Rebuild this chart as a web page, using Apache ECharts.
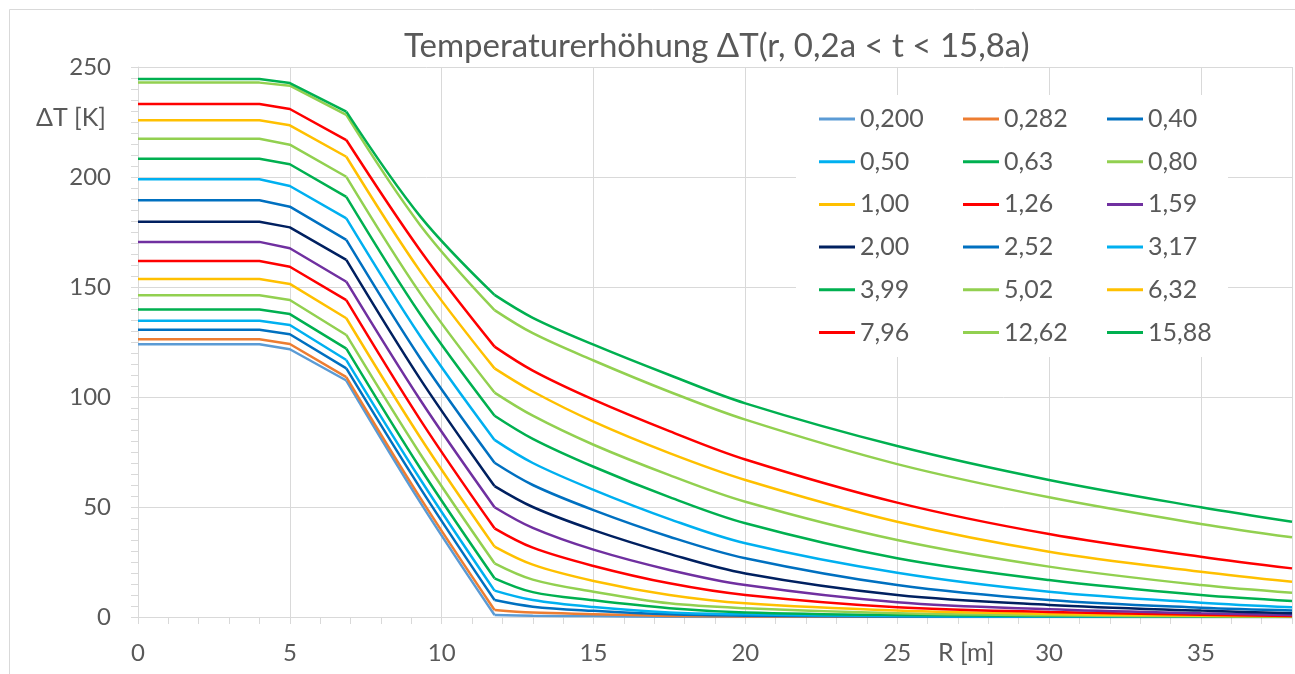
<!DOCTYPE html>
<html>
<head>
<meta charset="utf-8">
<script src="https://cdn.jsdelivr.net/npm/echarts@6/dist/echarts.min.js"></script>
<style>
html,body{margin:0;padding:0;background:#fff;}
#chart{width:1295px;height:674px;}
</style>
</head>
<body>
<div id="chart"></div>
<script>
// Radius positions (m)
var radius = [0, 4, 5, 6.86, 9.3, 11.74, 13, 15, 17.5, 20, 25, 30, 35, 38];

// Temperature rise ΔT (K) per time t (a)
var s0200 = [124, 124, 121.7, 107.5, 52, 0.9, 0.6, 0.4, 0.1, 0, 0, 0, 0, 0];
var s0282 = [126.2, 126.2, 124.1, 109, 54, 3.2, 2, 1.3, 0.5, 0.2, 0.1, 0, 0, 0];
var s040  = [130.6, 130.6, 128.5, 113, 58.5, 7.7, 4.7, 2.8, 1.2, 0.6, 0.2, 0.1, 0, 0];
var s050  = [134.7, 134.7, 132.7, 116.8, 62.5, 12, 7.7, 4.5, 2, 1.2, 0.4, 0.2, 0.1, 0];
var s063  = [139.8, 139.8, 137.7, 122, 67.5, 17.6, 11.3, 7.6, 4, 2.1, 0.9, 0.5, 0.2, 0.1];
var s080  = [146.2, 146.2, 144.1, 128.2, 74, 24.4, 17, 11.5, 6.2, 4, 1.7, 0.8, 0.3, 0.2];
var s100  = [153.6, 153.6, 151.4, 135.8, 81.5, 32, 23.8, 16.4, 10, 6.2, 2.9, 1.4, 0.6, 0.3];
var s126  = [161.8, 161.8, 159.2, 144, 89.5, 40.3, 31.5, 23.2, 15.3, 10, 4.4, 2.3, 1, 0.5];
var s159  = [170.5, 170.5, 167.6, 152.4, 98.5, 49.9, 40.5, 30.6, 21.4, 14.5, 6.7, 3.5, 1.7, 0.9];
var s200  = [179.7, 179.7, 177.1, 162.3, 108, 59.5, 50, 39.5, 28.7, 19.8, 10, 5.5, 2.9, 1.7];
var s252  = [189.4, 189.4, 186.5, 171.4, 117.5, 70.1, 60, 48.6, 36.5, 26.7, 14.5, 7.7, 4.2, 3];
var s317  = [199, 199, 195.9, 181.2, 127.5, 80.5, 70, 57.8, 44.5, 33.5, 20.1, 11.5, 6.5, 4.4];
var s399  = [208.3, 208.3, 205.8, 191, 137.5, 91.5, 81, 68.3, 54.5, 42.6, 26.7, 16.8, 10, 7.3];
var s502  = [217.4, 217.4, 214.7, 200.1, 147, 102, 91.5, 78.3, 64.5, 52.4, 35, 22.9, 14.5, 11];
var s632  = [225.8, 225.8, 223.5, 209.2, 157, 113, 102.5, 88.8, 74.5, 62.3, 43.3, 29.7, 20.6, 16];
var s796  = [233.2, 233.2, 230.9, 216.8, 166.5, 122.9, 112, 98.8, 84.5, 71.6, 52, 37.7, 27.4, 22.1];
var s1262 = [242.9, 242.9, 241.5, 228.2, 178, 139.5, 129, 116.6, 102.4, 89.7, 69.5, 54.4, 42.3, 36.2];
var s1588 = [244.5, 244.5, 242.7, 229.7, 182, 146.4, 136, 123.8, 110, 97.1, 77.7, 62.3, 49.9, 43.3];

var seriesNames = ['0,200','0,282','0,40','0,50','0,63','0,80','1,00','1,26','1,59','2,00','2,52','3,17','3,99','5,02','6,32','7,96','12,62','15,88'];
var seriesValues = [s0200, s0282, s040, s050, s063, s080, s100, s126, s159, s200, s252, s317, s399, s502, s632, s796, s1262, s1588];
var seriesColors = ['#5B9BD5','#ED7D31','#0070C0','#00B0F0','#00B050','#92D050','#FFC000','#FF0000','#7030A0','#002060','#0070C0','#00B0F0','#00B050','#92D050','#FFC000','#FF0000','#92D050','#00B050'];

var xTicks = [0, 5, 10, 15, 20, 25, 30, 35];
var yTicks = [0, 50, 100, 150, 200, 250];

// curve pieces: [first index, last index, smooth]
var pieces = [[0, 3, false], [3, 5, 0.35], [5, 13, 0.35]];

var FONT = 'Lato';
var TXT = '#595959';
var GRID = '#d9d9d9';

var chart = echarts.init(document.getElementById('chart'), null, {renderer: 'canvas'});

var series = [];
seriesNames.forEach(function (n, i) {
  pieces.forEach(function (p) {
    var pts = [];
    for (var k = p[0]; k <= p[1]; k++) pts.push([radius[k], seriesValues[i][k]]);
    series.push({
      name: n,
      type: 'line',
      xAxisIndex: 0,
      symbol: 'none',
      smooth: p[2],
      lineStyle: {width: 2.5, color: seriesColors[i]},
      itemStyle: {color: seriesColors[i]},
      data: pts,
      z: 3
    });
  });
});

function legendCol(c) {
  var names = [];
  for (var i = c; i < seriesNames.length; i += 3) names.push(seriesNames[i]);
  return {
    orient: 'vertical',
    left: 814 + c * 144,
    top: 100,
    data: names,
    icon: 'rect',
    itemWidth: 36,
    itemHeight: 3,
    itemGap: 14.7,
    textStyle: {fontFamily: FONT, fontSize: 25, color: TXT, lineHeight: 28}
  };
}

var option = {
  animation: false,
  backgroundColor: '#fff',
  title: {
    text: 'Temperaturerhöhung ΔT(r, 0,2a < t < 15,8a)',
    left: 399,
    top: 25,
    textStyle: {fontFamily: FONT, fontSize: 33, fontWeight: 'normal', color: TXT}
  },
  legend: [legendCol(0), legendCol(1), legendCol(2)],
  grid: {left: 138, right: 2, top: 67, bottom: 57, containLabel: false},
  xAxis: [{
    type: 'value',
    min: 0, max: 38, interval: 5,
    axisLine: {show: true, lineStyle: {color: GRID, width: 1}},
    axisTick: {show: false},
    splitLine: {show: true, lineStyle: {color: GRID, width: 1}},
    axisLabel: {
      margin: 24, fontFamily: FONT, fontSize: 24, color: TXT,
      formatter: function (v) { return xTicks.indexOf(v) >= 0 ? String(v) : ''; }
    }
  }, {
    type: 'value',
    min: 0, max: 38, interval: 1,
    position: 'bottom',
    axisLine: {show: false},
    axisTick: {show: true, length: 7, lineStyle: {color: GRID, width: 1}},
    splitLine: {show: false},
    axisLabel: {show: false}
  }],
  yAxis: {
    type: 'value',
    min: 0, max: 250, interval: 50,
    axisLine: {show: true, lineStyle: {color: GRID, width: 1}},
    axisTick: {show: true, length: 7, lineStyle: {color: GRID}},
    minorTick: {show: true, splitNumber: 10, length: 7, lineStyle: {color: GRID}},
    splitLine: {show: true, lineStyle: {color: GRID, width: 1}},
    axisLabel: {
      margin: 27, fontFamily: FONT, fontSize: 24, color: TXT,
      formatter: function (v) { return yTicks.indexOf(v) >= 0 ? String(v) : ''; }
    }
  },
  graphic: [
    {type: 'rect', left: 7, top: 7, shape: {width: 1400, height: 800}, style: {fill: 'none', stroke: GRID, lineWidth: 1}, z: 0, silent: true},
    {type: 'rect', left: 796, top: 95, shape: {width: 432, height: 262}, style: {fill: '#fff'}, z: 1, silent: true},
    {type: 'text', left: 36, top: 105, style: {text: 'ΔT [K]', fontFamily: FONT, fontSize: 25, fill: TXT}, z: 5},
    {type: 'text', left: 938, top: 640, style: {text: 'R [m]', fontFamily: FONT, fontSize: 25, fill: TXT}, z: 5}
  ],
  series: series
};
chart.setOption(option);
</script>
</body>
</html>
